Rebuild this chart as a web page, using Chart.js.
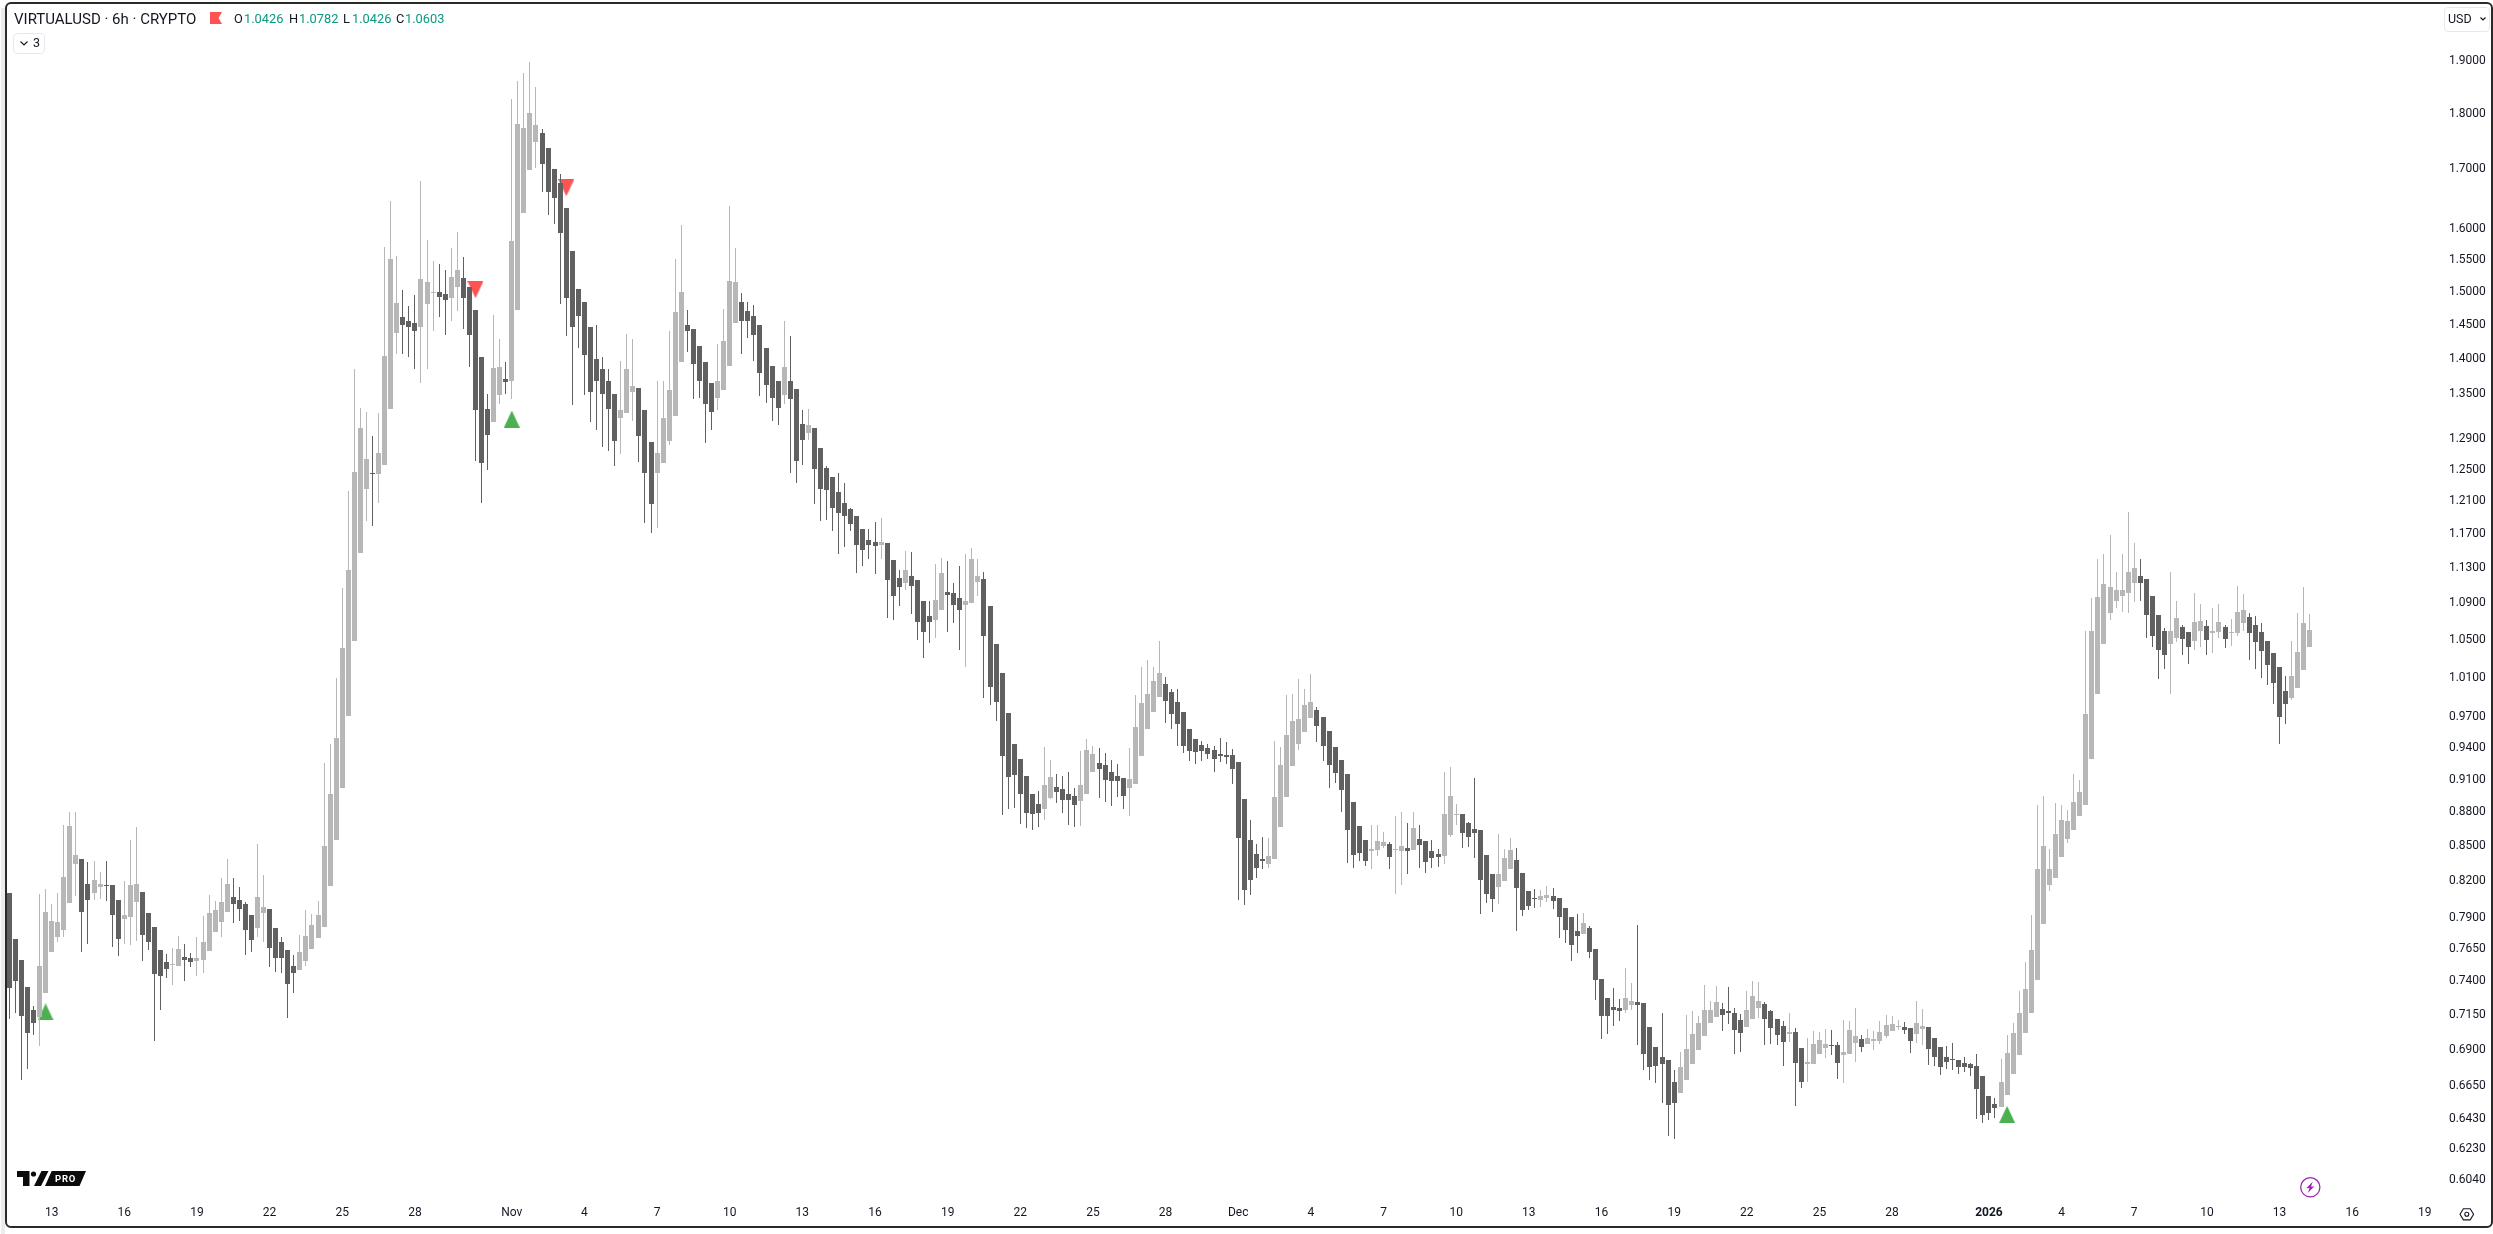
<!DOCTYPE html>
<html lang="en">
<head>
<meta charset="UTF-8">
<title>VIRTUALUSD 6h</title>
<script src="https://cdn.jsdelivr.net/npm/chart.js"></script>
<style>
  html, body { margin: 0; padding: 0; background: #fff; }
  body { width: 2493px; height: 1234px; overflow: hidden; position: relative; font-family: Roboto, sans-serif; color: #131722; }
  canvas { position: absolute; left: 0; top: 0; }
  .strip { position: absolute; left: 1px; top: 8px; width: 4px; height: 1226px; background: #ececec; }
  .frame { position: absolute; left: 5px; top: 2px; width: 2484px; height: 1222px; border: 2px solid #2a2a2a; border-radius: 6px 6px 6px 6px; pointer-events: none; }
  .txt { position: absolute; white-space: nowrap; line-height: 16px; }
  .title { left: 14px; top: 11px; font-size: 15px; }
  .ohlc { top: 11px; font-size: 12.8px; }
  .up { color: #089981; }
  .box { position: absolute; border: 1px solid #e6e8ee; border-radius: 4px; box-sizing: border-box; }
  svg { position: absolute; overflow: visible; }
</style>
</head>
<body>
<div class="strip"></div>
<canvas id="chart" width="2493" height="1234"></canvas>
<div class="frame"></div>

<div class="txt title">VIRTUALUSD · 6h · CRYPTO</div>
<svg style="left:210px;top:12px" width="12" height="12"><path d="M0 0H12L8.5 6L12 12H0Z" fill="#ff5252"/></svg>
<div class="txt ohlc" style="left:234px">O</div><div class="txt ohlc up" style="left:244px">1.0426</div>
<div class="txt ohlc" style="left:289px">H</div><div class="txt ohlc up" style="left:299px">1.0782</div>
<div class="txt ohlc" style="left:343px">L</div><div class="txt ohlc up" style="left:352px">1.0426</div>
<div class="txt ohlc" style="left:396px">C</div><div class="txt ohlc up" style="left:405px">1.0603</div>

<div class="box" style="left:13px;top:33px;width:32px;height:21px"></div>
<svg style="left:20px;top:41px" width="8" height="5"><path d="M0.5 0.5L4 4L7.5 0.5" fill="none" stroke="#131722" stroke-width="1.2"/></svg>
<div class="txt" style="left:33px;top:35px;font-size:12.5px">3</div>

<div class="box" style="left:2444px;top:7px;width:46px;height:25px"></div>
<div class="txt" style="left:2448px;top:11px;font-size:12.5px">USD</div>
<svg style="left:2480px;top:17px" width="6" height="4"><path d="M0.5 0.5L3 3L5.5 0.5" fill="none" stroke="#131722" stroke-width="1.2"/></svg>

<svg style="left:17px;top:1171px" width="70" height="15">
  <path d="M0 0H12.5V15H6V6H0Z" fill="#0b0b0b"/>
  <circle cx="16.5" cy="3" r="2.6" fill="#0b0b0b"/>
  <path d="M24.5 0H31.5L24 15H17Z" fill="#0b0b0b"/>
  <path d="M34.7 0H69L62.5 15H28Z" fill="#0b0b0b"/>
  <text x="38" y="11" font-family="Roboto" font-size="9.5" font-weight="700" letter-spacing="0.8" fill="#fff">PRO</text>
</svg>

<svg style="left:2300px;top:1177px" width="21" height="21">
  <circle cx="10.3" cy="10.3" r="9.6" fill="none" stroke="#9c27b0" stroke-width="1.3"/>
  <path d="M12.8 4.6L6.4 11.2H9.6L7.8 16L14.2 9.4H11Z" fill="#9c27b0"/>
</svg>
<svg style="left:2459px;top:1208px" width="16" height="13">
  <path d="M1 6.3L4.4 0.7H11.2L14.6 6.3L11.2 11.9H4.4Z" fill="none" stroke="#131722" stroke-width="1.1"/>
  <circle cx="7.8" cy="6.3" r="2" fill="none" stroke="#131722" stroke-width="1.1"/>
</svg>

<script>
// prices, oldest candle first (6h bars from Oct 11)
const opens = [
  .8105,.7732,.7568,.7355,.7190,.7132,.7315,.7629,.7748,.7804,
  .8021,.8349,.8391,.8177,.8105,.8152,.8171,.8171,.8045,.7885,
  .7901,.8029,.8113,.7941,.7828,.7644,.7545,.7522,.7515,.7591,
  .7583,.7560,.7568,.7636,.7788,.7868,.7949,.8069,.8045,.8013,
  .7917,.7820,.7941,.7973,.7820,.7708,.7644,.7515,.7484,.7553,
  .7652,.7740,.7828,.8162,.8557,.9024,.9716,1.049,1.148,1.225,
  1.245,1.244,1.256,1.330,1.438,1.462,1.456,1.453,1.446,1.481,
  1.498,1.499,1.496,1.490,1.507,1.521,1.507,1.472,1.402,1.330,
  1.313,1.349,1.371,1.368,1.472,1.626,1.699,1.749,1.765,1.738,
  1.701,1.677,1.634,1.564,1.504,1.484,1.447,1.400,1.385,1.369,
  1.351,1.318,1.324,1.354,1.359,1.328,1.286,1.246,1.258,1.287,
  1.321,1.395,1.449,1.444,1.419,1.395,1.366,1.345,1.356,1.390,
  1.453,1.484,1.471,1.463,1.450,1.416,1.390,1.368,1.349,1.369,
  1.358,1.310,1.298,1.304,1.278,1.252,1.240,1.221,1.208,1.201,
  1.192,1.176,1.163,1.161,1.157,1.160,1.139,1.119,1.113,1.121,
  1.116,1.093,1.076,1.072,1.083,1.103,1.102,1.096,1.088,1.090,
  1.114,1.118,1.087,1.045,1.015,.9745,.9437,.9296,.9137,.8969,
  .8877,.8833,.8932,.9033,.9015,.8969,.8950,.8904,.8969,.9174,
  .9259,.9240,.9174,.9137,.9118,.9024,.9061,.9325,.9587,.9755,
  .9904,1.004,.9955,.9854,.9755,.9587,.9489,.9430,.9400,.9381,
  .9343,.9334,.9334,.9268,.8922,.8557,.8434,.8391,.8349,.8391,
  .8664,.8941,.9231,.9437,.9558,.9696,.9775,.9706,.9568,.9410,
  .9287,.9155,.8895,.8673,.8557,.8460,.8468,.8504,.8522,.8468,
  .8460,.8486,.8468,.8566,.8548,.8460,.8434,.8417,.8593,.8771,
  .8788,.8700,.8646,.8637,.8426,.8264,.8152,.8204,.8300,.8383,
  .8272,.8121,.8061,.8045,.8061,.8077,.8061,.7981,.7901,.7796,
  .7772,.7820,.7652,.7416,.7277,.7212,.7204,.7183,.7226,.7248,
  .7240,.7060,.6922,.6852,.6831,.6679,.6603,.6686,.6797,.6900,
  .6995,.7089,.7132,.7197,.7176,.7168,.7111,.7060,.7118,.7204,
  .7233,.7176,.7118,.7068,.7010,.7024,.6914,.6797,.6803,.6872,
  .6914,.6936,.6936,.6866,.6872,.6950,.6979,.6943,.6965,.6965,
  .6995,.7031,.7060,.7060,.7053,.7010,.7046,.7060,.6987,.6922,
  .6852,.6838,.6831,.6810,.6797,.6783,.6714,.6583,.6529,.6510,
  .6590,.6734,.6866,.7017,.7168,.7408,.7852,.8171,.8230,.8408,
  .8566,.8637,.8762,.8868,.9296,.9933,1.045,1.079,1.093,1.098,
  1.101,1.113,1.121,1.118,1.098,1.077,1.059,1.046,1.052,1.064,
  1.058,1.049,1.059,1.065,1.057,1.058,1.064,1.057,1.057,1.068,
  1.075,1.066,1.058,1.049,1.036,1.021,.9965,.9894,.9993,1.018,1.0426
];
const highs = [
  .8105,.7732,.7568,.7355,.7219,.8093,.8136,.8013,.8105,.8682,
  .8806,.8806,.8391,.8366,.8375,.8281,.8375,.8171,.8045,.8204,
  .8557,.8664,.8113,.7941,.7828,.7644,.7614,.7660,.7756,.7692,
  .7621,.7748,.7909,.8085,.8037,.8230,.8391,.8230,.8152,.8029,
  .7917,.8522,.8256,.7973,.7820,.7748,.7644,.7606,.7764,.7965,
  .7933,.8037,.9259,.9437,1.010,1.107,1.223,1.385,1.332,1.326,
  1.294,1.324,1.570,1.646,1.556,1.503,1.478,1.495,1.680,1.581,
  1.547,1.543,1.534,1.569,1.595,1.554,1.507,1.472,1.402,1.351,
  1.465,1.429,1.396,1.827,1.861,1.877,1.898,1.850,1.772,1.738,
  1.701,1.692,1.634,1.564,1.504,1.484,1.447,1.449,1.403,1.386,
  1.351,1.397,1.436,1.429,1.359,1.328,1.286,1.368,1.368,1.441,
  1.551,1.606,1.472,1.444,1.419,1.395,1.366,1.421,1.474,1.638,
  1.569,1.498,1.484,1.480,1.450,1.416,1.390,1.368,1.455,1.433,
  1.358,1.329,1.330,1.304,1.278,1.255,1.241,1.246,1.233,1.202,
  1.192,1.176,1.176,1.185,1.190,1.160,1.139,1.128,1.150,1.149,
  1.116,1.093,1.092,1.135,1.142,1.138,1.113,1.133,1.147,1.154,
  1.141,1.126,1.087,1.045,1.015,.9745,.9437,.9296,.9137,.8969,
  .8998,.9410,.9287,.9155,.9137,.9174,.9024,.9372,.9489,.9419,
  .9400,.9353,.9287,.9250,.9118,.9400,.9924,1.021,1.028,1.021,
  1.049,1.011,.9984,.9984,.9755,.9587,.9489,.9469,.9437,.9419,
  .9498,.9459,.9391,.9268,.8922,.8727,.8522,.8584,.8575,.9466,
  .9410,.9924,.9933,1.009,.9984,1.014,.9805,.9706,.9568,.9410,
  .9287,.9155,.8895,.8673,.8557,.8682,.8682,.8628,.8540,.8762,
  .8806,.8700,.8806,.8682,.8548,.8557,.8477,.9174,.9221,.8877,
  .8788,.8709,.9118,.8637,.8426,.8264,.8602,.8477,.8575,.8486,
  .8272,.8121,.8136,.8128,.8162,.8145,.8061,.7981,.7901,.7933,
  .7941,.7836,.7652,.7416,.7277,.7348,.7270,.7500,.7386,.7844,
  .7240,.7060,.6922,.7168,.6831,.6755,.6886,.7147,.7176,.7140,
  .7370,.7255,.7362,.7240,.7355,.7204,.7154,.7325,.7401,.7394,
  .7248,.7183,.7118,.7104,.7161,.7053,.6914,.6987,.7031,.7024,
  .7046,.7039,.6958,.7111,.7104,.7204,.7003,.7046,.7031,.7104,
  .7147,.7140,.7111,.7096,.7053,.7255,.7197,.7060,.6987,.6922,
  .6929,.6950,.6831,.6852,.6810,.6872,.6714,.6583,.6569,.6838,
  .7003,.7089,.7330,.7545,.7925,.8868,.8950,.8477,.8886,.8868,
  .8824,.9155,.9099,1.060,1.096,1.140,1.147,1.169,1.125,1.147,
  1.197,1.160,1.141,1.118,1.098,1.077,1.063,1.125,1.093,1.066,
  1.058,1.102,1.089,1.071,1.085,1.089,1.066,1.073,1.109,1.100,
  1.079,1.076,1.068,1.049,1.036,1.021,1.012,1.049,1.079,1.108,1.0782
];
const lows = [
  .7118,.7168,.6686,.6762,.7003,.6928,.7315,.7629,.7708,.7748,
  .8021,.8077,.7629,.7692,.8045,.8053,.8037,.7668,.7598,.7692,
  .7684,.7716,.7553,.7644,.6965,.7190,.7424,.7370,.7515,.7401,
  .7507,.7439,.7462,.7636,.7788,.7748,.7949,.7860,.7876,.7606,
  .7629,.7748,.7708,.7507,.7469,.7462,.7125,.7315,.7484,.7515,
  .7652,.7740,.7828,.8162,.8557,.9024,.9716,1.049,1.148,1.186,
  1.180,1.208,1.256,1.330,1.407,1.407,1.403,1.385,1.366,1.385,
  1.440,1.462,1.435,1.455,1.471,1.443,1.389,1.261,1.208,1.250,
  1.313,1.337,1.351,1.344,1.472,1.626,1.699,1.703,1.661,1.623,
  1.608,1.481,1.433,1.336,1.416,1.349,1.313,1.302,1.279,1.274,
  1.254,1.270,1.324,1.314,1.260,1.183,1.171,1.177,1.258,1.282,
  1.321,1.395,1.410,1.344,1.345,1.285,1.302,1.329,1.356,1.390,
  1.453,1.407,1.431,1.397,1.348,1.338,1.314,1.309,1.337,1.245,
  1.233,1.256,1.289,1.207,1.186,1.187,1.174,1.146,1.155,1.174,
  1.124,1.132,1.140,1.123,1.140,1.074,1.071,1.087,1.105,1.078,
  1.050,1.031,1.047,1.052,1.083,1.058,1.068,1.039,1.021,1.090,
  1.098,.9894,.9825,.9666,.8771,.8833,.8842,.8691,.8655,.8637,
  .8664,.8726,.8922,.8886,.8797,.8682,.8664,.8673,.8969,.9174,
  .8932,.8895,.8860,.8941,.8833,.8762,.9061,.9325,.9587,.9755,
  .9904,.9646,.9587,.9419,.9353,.9278,.9250,.9278,.9296,.9174,
  .9268,.9250,.9061,.8045,.8005,.8085,.8230,.8300,.8315,.8391,
  .8664,.8941,.9231,.9381,.9558,.9696,.9459,.9278,.9024,.9071,
  .8800,.8357,.8315,.8375,.8332,.8300,.8417,.8486,.8300,.8093,
  .8171,.8264,.8468,.8315,.8272,.8315,.8323,.8349,.8584,.8682,
  .8486,.8495,.8400,.7933,.8021,.7949,.8013,.8204,.8300,.7796,
  .7909,.7965,.7981,.7989,.8029,.7973,.7740,.7700,.7553,.7621,
  .7772,.7583,.7262,.6979,.7010,.7068,.7104,.7161,.7183,.6936,
  .6755,.6686,.6666,.6535,.6319,.6300,.6603,.6686,.6797,.6900,
  .6995,.7089,.7132,.7031,.7082,.6872,.6886,.7060,.7118,.7125,
  .6936,.6943,.6936,.6783,.6958,.6516,.6638,.6679,.6803,.6872,
  .6845,.6866,.6693,.6672,.6872,.6817,.6886,.6943,.6900,.6943,
  .6987,.7031,.7039,.7010,.6879,.6950,.6936,.6790,.6783,.6721,
  .6762,.6755,.6734,.6741,.6714,.6425,.6399,.6418,.6431,.6510,
  .6590,.6734,.6866,.7017,.7168,.7408,.7852,.8121,.8230,.8408,
  .8530,.8637,.8762,.8868,.9296,.9933,1.045,1.071,1.085,1.080,
  1.079,1.091,1.092,1.052,1.042,1.009,1.019,.9933,1.048,1.034,
  1.024,1.039,1.042,1.034,1.036,1.052,1.041,1.043,1.054,1.060,
  1.028,1.019,1.010,1.002,.9834,.9437,.9636,.9874,.9993,1.018,1.0426
];
const closes = [
  .7348,.7401,.7140,.7017,.7089,.7515,.7949,.7876,.7868,.8238,
  .8673,.8426,.7949,.8045,.8213,.8177,.8162,.7917,.7732,.7917,
  .8171,.8177,.7764,.7708,.7454,.7439,.7492,.7530,.7652,.7568,
  .7545,.7583,.7708,.7941,.7965,.8029,.8177,.8013,.7973,.7804,
  .7724,.8069,.7989,.7660,.7583,.7576,.7378,.7462,.7629,.7756,
  .7844,.7925,.8504,.8969,.9500,1.041,1.128,1.247,1.304,1.263,
  1.244,1.272,1.404,1.551,1.483,1.449,1.447,1.440,1.520,1.515,
  1.499,1.492,1.487,1.523,1.534,1.490,1.435,1.329,1.258,1.295,
  1.387,1.389,1.367,1.580,1.781,1.774,1.801,1.779,1.710,1.661,
  1.651,1.592,1.490,1.446,1.463,1.406,1.354,1.368,1.351,1.330,
  1.287,1.329,1.386,1.362,1.294,1.245,1.207,1.272,1.318,1.356,
  1.469,1.499,1.440,1.392,1.369,1.337,1.326,1.369,1.426,1.517,
  1.515,1.456,1.455,1.435,1.380,1.363,1.345,1.332,1.389,1.344,
  1.261,1.289,1.308,1.251,1.225,1.224,1.202,1.195,1.192,1.182,
  1.157,1.151,1.157,1.156,1.161,1.116,1.098,1.108,1.128,1.109,
  1.069,1.058,1.069,1.094,1.124,1.099,1.088,1.083,1.093,1.140,
  1.121,1.054,1.000,.9854,.9325,.9127,.9146,.8969,.8797,.8780,
  .8797,.9052,.9127,.8988,.8913,.8913,.8868,.9052,.9381,.9343,
  .9202,.9099,.9090,.9090,.8950,.9108,.9607,.9844,.9936,1.007,
  1.015,.9864,.9735,.9636,.9419,.9372,.9362,.9372,.9343,.9296,
  .9325,.9315,.9202,.8575,.8129,.8213,.8315,.8375,.8417,.8941,
  .9240,.9529,.9666,.9686,.9825,.9854,.9617,.9419,.9240,.9165,
  .9005,.8637,.8426,.8443,.8375,.8477,.8548,.8540,.8408,.8477,
  .8504,.8460,.8655,.8513,.8366,.8400,.8408,.8780,.8950,.8788,
  .8619,.8584,.8619,.8213,.8093,.8053,.8264,.8400,.8468,.8145,
  .7965,.7997,.8053,.8077,.8085,.8037,.7901,.7804,.7684,.7756,
  .7860,.7629,.7414,.7140,.7140,.7183,.7176,.7277,.7255,.7226,
  .6872,.6776,.6783,.6797,.6522,.6535,.6776,.6907,.7010,.7089,
  .7190,.7190,.7248,.7147,.7168,.7039,.7017,.7183,.7292,.7255,
  .7118,.7053,.7003,.6958,.7024,.6810,.6679,.6817,.6943,.6972,
  .6943,.6929,.6810,.6886,.7039,.6995,.6922,.6987,.6979,.7024,
  .7075,.7082,.7068,.7039,.6965,.7089,.7068,.6907,.6852,.6776,
  .6817,.6831,.6776,.6776,.6769,.6631,.6451,.6470,.6503,.6679,
  .6879,.7017,.7161,.7340,.7644,.8306,.8504,.8300,.8602,.8726,
  .8717,.8895,.8988,.9735,1.059,1.097,1.112,1.108,1.105,1.105,
  1.125,1.130,1.113,1.077,1.054,1.039,1.034,1.060,1.074,1.051,
  1.042,1.069,1.070,1.050,1.060,1.069,1.051,1.058,1.080,1.082,
  1.057,1.048,1.038,1.023,1.005,.9706,.9834,1.012,1.037,1.068,1.0603
];

// candle slots on the time axis, the last ones are empty
const slotCount = 401;
const firstSlot = Date.UTC(2025, 9, 11, 6);

const priceTicks = [1.9, 1.8, 1.7, 1.6, 1.55, 1.5, 1.45, 1.4, 1.35, 1.29, 1.25, 1.21, 1.17, 1.13, 1.09, 1.05, 1.01,
  0.97, 0.94, 0.91, 0.88, 0.85, 0.82, 0.79, 0.765, 0.74, 0.715, 0.69, 0.665, 0.643, 0.623, 0.604];

const timeTickDates = ['2025-10-13', '2025-10-16', '2025-10-19', '2025-10-22', '2025-10-25', '2025-10-28',
  '2025-11-01', '2025-11-04', '2025-11-07', '2025-11-10', '2025-11-13', '2025-11-16', '2025-11-19', '2025-11-22', '2025-11-25', '2025-11-28',
  '2025-12-01', '2025-12-04', '2025-12-07', '2025-12-10', '2025-12-13', '2025-12-16', '2025-12-19', '2025-12-22', '2025-12-25', '2025-12-28',
  '2026-01-01', '2026-01-04', '2026-01-07', '2026-01-10', '2026-01-13', '2026-01-16', '2026-01-19'];
const timeTickLabels = ['13', '16', '19', '22', '25', '28',
  'Nov', '4', '7', '10', '13', '16', '19', '22', '25', '28',
  'Dec', '4', '7', '10', '13', '16', '19', '22', '25', '28',
  '2026', '4', '7', '10', '13', '16', '19'];

// signal arrows: candle number and price
const buyCandles = [6, 83, 330];
const buyPrices = [0.7172, 1.3163, 0.6458];
const sellCandles = [77, 92];
const sellPrices = [1.5029, 1.6683];

const upColor = '#b7b7b7';
const downColor = '#606060';

var slots = [];
for (var i = 0; i < slotCount; i++) {
    slots.push(new Date(firstSlot + i * 6 * 3600 * 1000).toISOString().slice(0, 16));
}
var candleColors = opens.map(function(o, i) {
    return closes[i] < o ? downColor : upColor;
});

function timeLabel(slot) {
    var pos = slot.endsWith('T00:00') ? timeTickDates.indexOf(slot.slice(0, 10)) : -1;
    return pos < 0 ? null : timeTickLabels[pos];
}

function makeArrow(color, up) {
    var c = document.createElement('canvas');
    c.width = 16;
    c.height = 17;
    var g = c.getContext('2d');
    g.fillStyle = color;
    g.beginPath();
    if (up) {
        g.moveTo(8, 0); g.lineTo(16, 17); g.lineTo(0, 17);
    } else {
        g.moveTo(0, 0); g.lineTo(16, 0); g.lineTo(8, 17);
    }
    g.fill();
    return c;
}

// no extra room for labels sticking out, the plot edges are set by hand
function noLabelPadding(axis) {
    axis.paddingLeft = 0;
    axis.paddingRight = 0;
    axis.paddingTop = 0;
    axis.paddingBottom = 0;
}

// keep candle edges on whole pixels so they stay sharp
var snapBars = {
    id: 'snapBars',
    beforeDatasetsDraw: function(chart) {
        chart.getSortedVisibleDatasetMetas().forEach(function(meta) {
            if (meta.type !== 'bar') return;
            meta.data.forEach(function(bar) {
                bar.x = Math.floor(bar.x) + 0.5;
                bar.y = Math.round(bar.y);
                bar.base = Math.round(bar.base);
                if (bar.y === bar.base) bar.y = bar.base - 1;
            });
        });
    }
};

new Chart(document.getElementById('chart'), {
    type: 'bar',
    plugins: [snapBars],
    data: {
        labels: slots,
        datasets: [{
            label: 'Body',
            order: 1,
            grouped: false,
            data: opens.map(function(o, i) { return [o, closes[i]]; }),
            backgroundColor: candleColors,
            barThickness: 5,
            minBarLength: 1,
            borderWidth: 0,
            inflateAmount: 0
        }, {
            label: 'Wick',
            order: 2,
            grouped: false,
            data: highs.map(function(h, i) { return [lows[i], h]; }),
            backgroundColor: candleColors,
            barThickness: 1,
            minBarLength: 1,
            borderWidth: 0,
            inflateAmount: 0
        }, {
            type: 'line',
            label: 'Buy',
            order: 3,
            showLine: false,
            data: buyCandles.map(function(c, i) { return { x: slots[c], y: buyPrices[i] }; }),
            pointStyle: makeArrow('#4caf50', true),
            pointRadius: 8
        }, {
            type: 'line',
            label: 'Sell',
            order: 3,
            showLine: false,
            data: sellCandles.map(function(c, i) { return { x: slots[c], y: sellPrices[i] }; }),
            pointStyle: makeArrow('#ff5252', false),
            pointRadius: 8
        }]
    },
    options: {
        responsive: false,
        animation: false,
        devicePixelRatio: 1,
        layout: { autoPadding: false, padding: { left: 6.27, top: 8, right: 0, bottom: 0 } },
        plugins: { legend: { display: false }, tooltip: { enabled: false } },
        scales: {
            x: {
                type: 'category',
                offset: true,
                grid: { display: false, drawTicks: false },
                border: { display: false },
                afterFit: function(axis) { axis.height = 37; noLabelPadding(axis); },
                afterBuildTicks: function(axis) {
                    axis.ticks = axis.ticks.filter(function(t) { return timeLabel(slots[t.value]) !== null; });
                },
                ticks: {
                    autoSkip: false,
                    maxRotation: 0,
                    padding: 9,
                    color: '#131722',
                    font: function(ctx) {
                        var bold = ctx.tick && timeLabel(slots[ctx.tick.value]) === '2026';
                        return { family: 'Roboto', size: 12, weight: bold ? '700' : '400' };
                    },
                    callback: function(value) { return timeLabel(slots[value]); }
                }
            },
            y: {
                type: 'logarithmic',
                position: 'right',
                min: 0.5934,
                max: 2.0054,
                bounds: 'data',
                grid: { display: false, drawTicks: false },
                border: { display: false },
                afterFit: function(axis) { axis.width = 59.1; noLabelPadding(axis); },
                afterBuildTicks: function(axis) {
                    axis.ticks = priceTicks.map(function(v) { return { value: v }; });
                },
                ticks: {
                    autoSkip: false,
                    crossAlign: 'near',
                    padding: 15,
                    color: '#131722',
                    font: { family: 'Roboto', size: 12 },
                    callback: function(value) { return value.toFixed(4); }
                }
            }
        }
    }
});
</script>
</body>
</html>
